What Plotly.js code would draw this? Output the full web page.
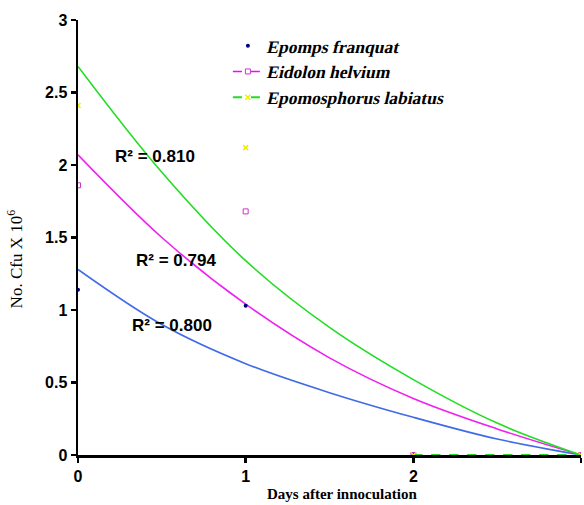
<!DOCTYPE html>
<html><head><meta charset="utf-8">
<script src="https://cdn.plot.ly/plotly-3.0.1.min.js"></script>
<style>body{margin:0;background:#fff}#chart{width:584px;height:505px}</style>
</head><body><div id="chart"></div>
<script>
// Observed data (days after inoculation)
const days = [0, 1, 2, 3];
const seriesNames = ["Epomps franquat", "Eidolon helvium", "Epomosphorus labiatus"];
const epompsValues = [1.14, 1.03, 0, 0];
const eidolonValues = [1.86, 1.68, 0, 0];
const epomosphorusValues = [2.41, 2.12, 0, 0];

// Trend lines
const trendX = [0, 0.5, 1, 1.5, 2, 2.5, 3];
const trendEpomps = [1.28, 0.90, 0.63, 0.43, 0.26, 0.11, 0];
const trendEidolon = [2.07, 1.50, 1.04, 0.67, 0.39, 0.18, 0];
const trendEpomosphorus = [2.68, 1.95, 1.34, 0.88, 0.52, 0.22, 0];
const r2Labels = ["R² = 0.800", "R² = 0.794", "R² = 0.810"];

const yTicks = [0, 0.5, 1, 1.5, 2, 2.5, 3];
const yTickText = ["0", "0.5", "1", "1.5", "2", "2.5", "3"];
const xTicks = [0, 1, 2, 3];
const xTickText = ["0", "1", "2", "3"];

// break the series line between day 1 and day 2 (only the 2-3 segment is drawn)
function gapped(xs, ys) {
  const gx = [], gy = [];
  xs.forEach((x, i) => {
    if (i > 0 && i <= 2) { gx.push(null); gy.push(null); }
    gx.push(x); gy.push(ys[i]);
  });
  return {x: gx, y: gy};
}

const g2 = gapped(days, eidolonValues);
const g3 = gapped(days, epomosphorusValues);
const b = s => '<b>' + s + '</b>';

const SERIF = 'Liberation Serif';
const SANS = 'Liberation Sans';

const traces = [
  {x: trendX, y: trendEpomps, mode: 'lines', line: {color: '#3f6ae8', width: 1.6, shape: 'spline'}, showlegend: false, hoverinfo: 'skip'},
  {x: trendX, y: trendEidolon, mode: 'lines', line: {color: '#f020f0', width: 1.6, shape: 'spline'}, showlegend: false, hoverinfo: 'skip'},
  {x: trendX, y: trendEpomosphorus, mode: 'lines', line: {color: '#22dd22', width: 1.6, shape: 'spline'}, showlegend: false, hoverinfo: 'skip'},
  {x: days, y: epompsValues, name: b(seriesNames[0]), mode: 'markers',
   marker: {color: '#000080', size: 4, symbol: 'circle'}},
  {x: g2.x, y: g2.y, name: b(seriesNames[1]), mode: 'lines+markers',
   line: {color: '#ff00ff', width: 1.5, dash: 'dash'},
   marker: {color: '#cc33cc', size: 5, symbol: 'square-open', line: {width: 1, color: '#cc33cc'}}},
  {x: g3.x, y: g3.y, name: b(seriesNames[2]), mode: 'lines+markers',
   line: {color: '#22dd22', width: 2, dash: 'dash'},
   marker: {color: '#eeee00', size: 5, symbol: 'x-thin-open', line: {width: 1.5, color: '#eeee00'}}}
];

const layout = {
  width: 584, height: 505,
  margin: {l: 78, r: 3, t: 20, b: 50},
  paper_bgcolor: '#fff', plot_bgcolor: '#fff',
  showlegend: true,
  legend: {x: 0.298, y: 0.982, xanchor: 'left', yanchor: 'top', bgcolor: 'rgba(0,0,0,0)',
    font: {family: SERIF, size: 17.5, color: '#000'},
    itemwidth: 30, tracegroupgap: 0},
  xaxis: {range: [0, 3], tickvals: xTicks, ticktext: xTickText.map(b),
    showgrid: false, zeroline: false, showline: true, linecolor: '#000', linewidth: 2.5,
    ticks: 'outside', ticklen: 5, tickwidth: 2.5, tickcolor: '#000',
    tickfont: {family: SANS, size: 16, color: '#000'},
    fixedrange: true},
  yaxis: {range: [0, 3], tickvals: yTicks, ticktext: yTickText.map(b),
    showgrid: false, zeroline: false, showline: true, linecolor: '#000', linewidth: 2.5,
    ticks: 'outside', ticklen: 5, tickwidth: 2.5, tickcolor: '#000',
    tickfont: {family: SANS, size: 16, color: '#000'},
    fixedrange: true},
  annotations: [
    {xref: 'paper', yref: 'paper', x: 0.525, y: -0.09, yanchor: 'middle', xanchor: 'center', showarrow: false,
     text: b('Days after innoculation'),
     font: {family: SERIF, size: 15, color: '#000'}},
    {xref: 'paper', yref: 'paper', x: -0.125, y: 0.45, xanchor: 'center', yanchor: 'middle', showarrow: false,
     textangle: -90, text: 'No. Cfu X 10<sup>6</sup>',
     font: {family: SERIF, size: 17, color: '#000'}},
    {xref: 'x', yref: 'y', x: 0.56, y: 0.89, showarrow: false, text: b(r2Labels[0]),
     font: {family: SANS, size: 17, color: '#000'}},
    {xref: 'x', yref: 'y', x: 0.585, y: 1.34, showarrow: false, text: b(r2Labels[1]),
     font: {family: SANS, size: 17, color: '#000'}},
    {xref: 'x', yref: 'y', x: 0.46, y: 2.06, showarrow: false, text: b(r2Labels[2]),
     font: {family: SANS, size: 17, color: '#000'}}
  ]
};

Plotly.newPlot('chart', traces, layout, {staticPlot: true, displayModeBar: false}).then(() => {
  // serif italic face is not available: slant the bold serif legend text instead
  document.querySelectorAll('#chart .legendtext').forEach(t => {
    t.setAttribute('transform', 'skewX(-13)');
  });
});
</script>
</body></html>
